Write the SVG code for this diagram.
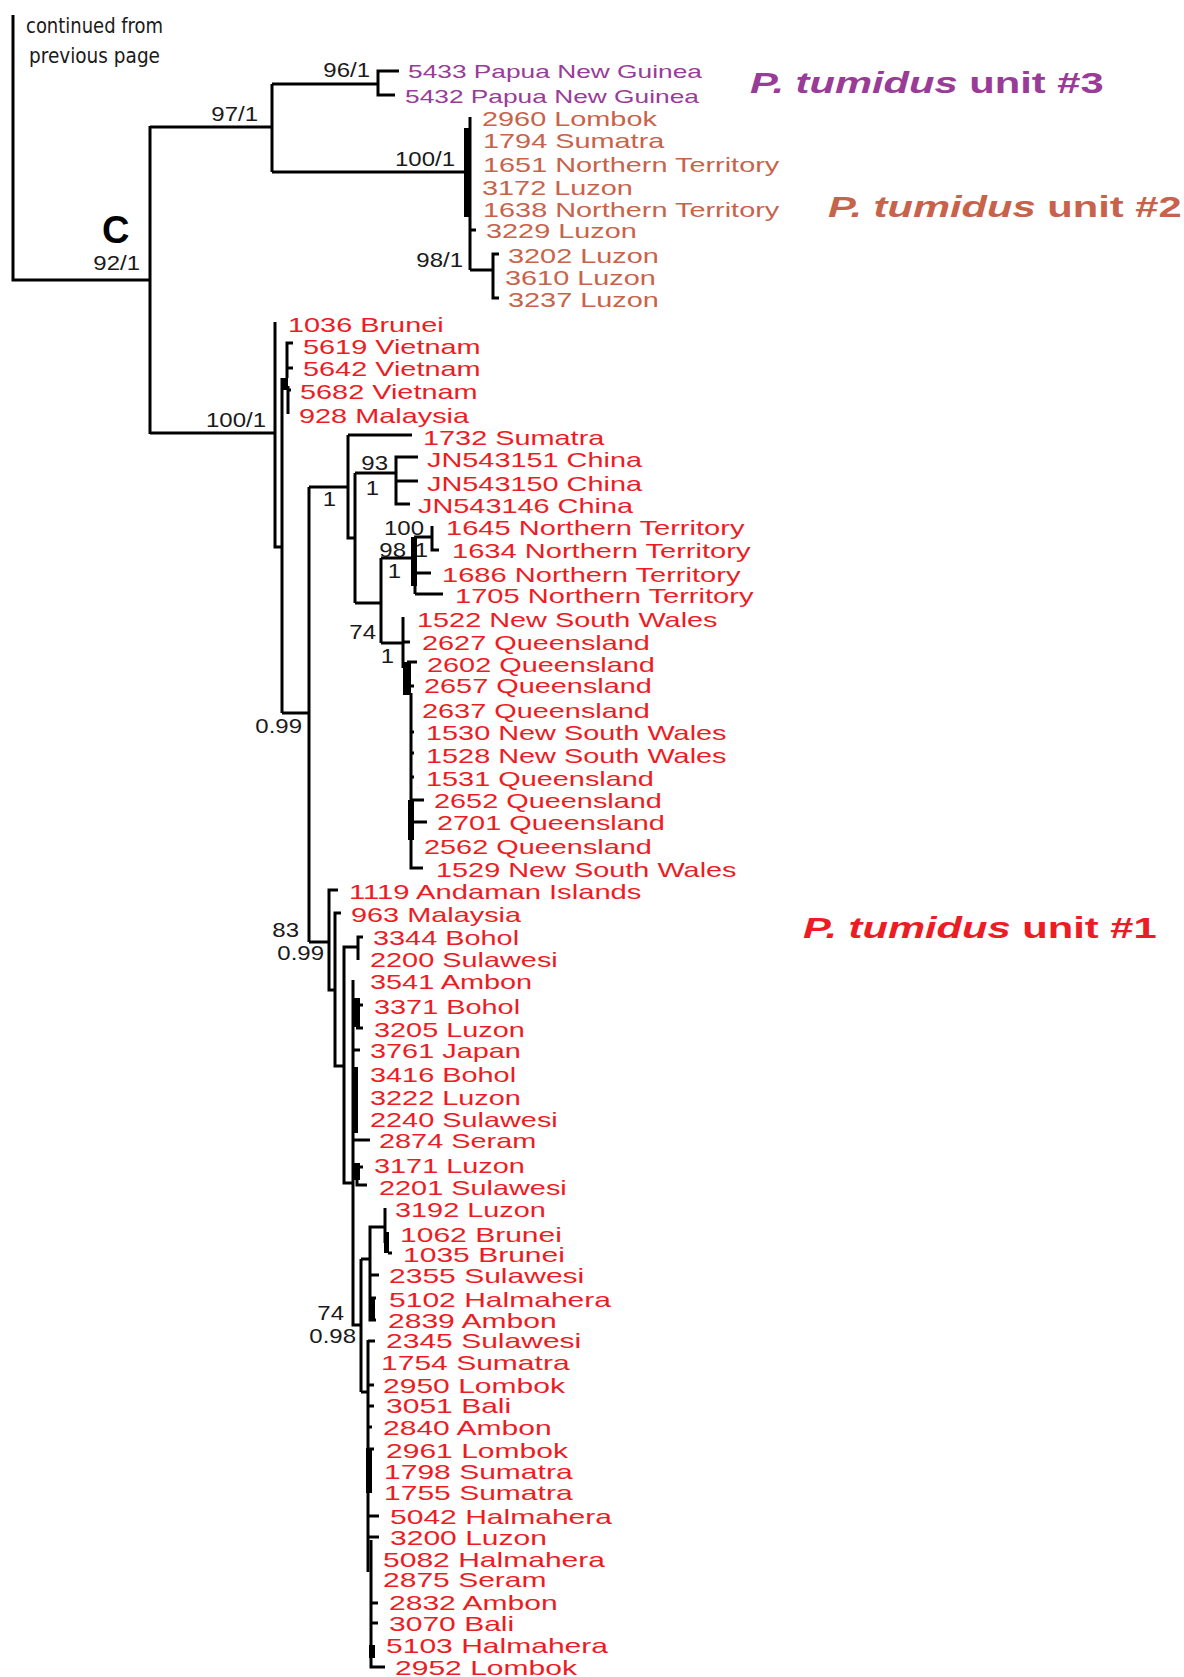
<svg xmlns="http://www.w3.org/2000/svg" width="1184" height="1677" viewBox="0 0 1184 1677">
<style>
.e{fill:none;stroke:#000;stroke-width:3;stroke-linejoin:miter}
.b{fill:#000}
.r{font-family:"Liberation Sans",Arial,sans-serif;font-size:21px;fill:#ed1c24}
.o{font-family:"Liberation Sans",Arial,sans-serif;font-size:21px;fill:#c8634b}
.p{font-family:"Liberation Sans",Arial,sans-serif;font-size:19px;fill:#993c98}
.sm{font-family:"Liberation Sans",Arial,sans-serif;font-size:20px;fill:#1a1a1a;text-anchor:end}
.u{font-family:"Liberation Sans",Arial,sans-serif;font-size:30px;font-weight:bold}
.n{font-family:"Liberation Sans Narrow","DejaVu Sans Condensed","Liberation Sans",sans-serif;font-size:22px;fill:#1a1a1a}
</style>
<rect width="1184" height="1677" fill="#fff"/>
<g id="connectors">
<path class="e" d="M13,15 V280 H150"/>
<path class="e" d="M150,126 V434"/>
<path class="e" d="M150,127 H272"/>
<path class="e" d="M150,433 H275"/>
<path class="e" d="M272,84 V172"/>
<path class="e" d="M272,84 H378"/>
<path class="e" d="M272,172 H470"/>
<path class="e" d="M399,71 H378 V95 H395"/>
<path class="e" d="M470,117 V270"/>
<rect class="b" x="464" y="128" width="6" height="89"/>
<path class="e" d="M470,230 H476"/>
<path class="e" d="M470,270 H493"/>
<path class="e" d="M499,254 H493 V298 H499"/>
<path class="e" d="M275,322 V547 H282"/>
<path class="e" d="M282,378 V713"/>
<path class="e" d="M293,343 H287 V378"/>
<path class="e" d="M287,368 H293"/>
<rect class="b" x="281" y="378" width="7" height="12"/>
<path class="e" d="M288,386 V414"/>
<path class="e" d="M288,390 H291"/>
<path class="e" d="M282,713 H309"/>
<path class="e" d="M309,487 V942"/>
<path class="e" d="M309,487 H348"/>
<path class="e" d="M348,435 V538 H355"/>
<path class="e" d="M348,435 H412"/>
<path class="e" d="M355,473 V603"/>
<path class="e" d="M355,473 H396"/>
<path class="e" d="M418,457 H396 V504 H410"/>
<path class="e" d="M396,481 H418"/>
<path class="e" d="M355,603 H381"/>
<path class="e" d="M381,558 V643"/>
<path class="e" d="M381,558 H414"/>
<rect class="b" x="411" y="537" width="6" height="49"/>
<path class="e" d="M415,537 V594"/>
<path class="e" d="M414,537 H432"/>
<path class="e" d="M432,526 V550 H439"/>
<path class="e" d="M415,573 H431"/>
<path class="e" d="M415,594 H443"/>
<path class="e" d="M381,643 H403"/>
<path class="e" d="M403,617 V668"/>
<path class="e" d="M403,642 H410"/>
<rect class="b" x="403" y="662" width="8" height="33"/>
<path class="e" d="M407,662 H417"/>
<path class="e" d="M407,686 H414"/>
<path class="e" d="M411,693 V868 H423"/>
<rect class="b" x="408" y="800" width="6" height="40"/>
<path class="e" d="M411,732 H414"/>
<path class="e" d="M411,753 H414"/>
<path class="e" d="M411,777 H414"/>
<path class="e" d="M411,800 H424"/>
<path class="e" d="M411,822 H427"/>
<path class="e" d="M309,942 H329"/>
<path class="e" d="M338,890 H329 V990 H335"/>
<path class="e" d="M341,913 H335 V1066 H344"/>
<path class="e" d="M358,947 H344 V1183 H353"/>
<path class="e" d="M363,937 H358 V960"/>
<path class="e" d="M353,980 V1325 H361"/>
<rect class="b" x="352" y="998" width="8" height="29"/>
<path class="e" d="M356,1005 H363"/>
<path class="e" d="M356,1028 H363"/>
<path class="e" d="M353,1050 H360"/>
<rect class="b" x="352" y="1067" width="6" height="66"/>
<path class="e" d="M353,1140 H370"/>
<rect class="b" x="352" y="1163" width="8" height="17"/>
<path class="e" d="M356,1167 H363"/>
<path class="e" d="M357,1178 V1185 H367"/>
<path class="e" d="M361,1259 V1392"/>
<path class="e" d="M361,1259 H370"/>
<path class="e" d="M385,1227 H370 V1320 H376"/>
<path class="e" d="M370,1275 H379"/>
<path class="e" d="M370,1298 H376"/>
<rect class="b" x="369" y="1297" width="6" height="23"/>
<path class="e" d="M385,1208 V1243"/>
<rect class="b" x="384" y="1232" width="5" height="21"/>
<path class="e" d="M388,1253 H392"/>
<path class="e" d="M361,1392 H368"/>
<path class="e" d="M368,1340 V1572"/>
<path class="e" d="M368,1341 H375"/>
<path class="e" d="M368,1385 H374"/>
<path class="e" d="M368,1406 H374"/>
<path class="e" d="M368,1427 H372"/>
<path class="e" d="M368,1449 H374"/>
<rect class="b" x="366" y="1448" width="6" height="45"/>
<path class="e" d="M368,1516 H379"/>
<path class="e" d="M368,1537 H379"/>
<path class="e" d="M371,1540 V1667 H385"/>
<path class="e" d="M371,1603 H378"/>
<path class="e" d="M371,1623 H378"/>
<rect class="b" x="369" y="1645" width="6" height="13"/>
</g>
<g id="notes">
<text class="n" x="26" y="33" textLength="137" lengthAdjust="spacingAndGlyphs">continued from</text>
<text class="n" x="29" y="63" textLength="131" lengthAdjust="spacingAndGlyphs">previous page</text>
<text x="102" y="243" font-family="Liberation Sans,sans-serif" font-size="38" font-weight="bold" fill="#000">C</text>
</g>
<g id="support">
<text class="sm" transform="matrix(1.2,0,0,1,370,77)">96/1</text>
<text class="sm" transform="matrix(1.2,0,0,1,258,121)">97/1</text>
<text class="sm" transform="matrix(1.2,0,0,1,455,166)">100/1</text>
<text class="sm" transform="matrix(1.2,0,0,1,140,270)">92/1</text>
<text class="sm" transform="matrix(1.2,0,0,1,463,267)">98/1</text>
<text class="sm" transform="matrix(1.2,0,0,1,266,427)">100/1</text>
<text class="sm" transform="matrix(1.2,0,0,1,336,506)">1</text>
<text class="sm" transform="matrix(1.2,0,0,1,388,470)">93</text>
<text class="sm" transform="matrix(1.2,0,0,1,379,495)">1</text>
<text class="sm" transform="matrix(1.2,0,0,1,424,535)">100</text>
<text class="sm" transform="matrix(1.2,0,0,1,406,557)">98</text>
<text class="sm" transform="matrix(1.2,0,0,1,428,557)">1</text>
<text class="sm" transform="matrix(1.2,0,0,1,401,578)">1</text>
<text class="sm" transform="matrix(1.2,0,0,1,376,639)">74</text>
<text class="sm" transform="matrix(1.2,0,0,1,394,663)">1</text>
<text class="sm" transform="matrix(1.2,0,0,1,302,733)">0.99</text>
<text class="sm" transform="matrix(1.2,0,0,1,299,937)">83</text>
<text class="sm" transform="matrix(1.2,0,0,1,324,960)">0.99</text>
<text class="sm" transform="matrix(1.2,0,0,1,344,1320)">74</text>
<text class="sm" transform="matrix(1.2,0,0,1,356,1343)">0.98</text>
</g>
<g id="unit3"><text class="u" transform="matrix(1.39,0,0,1,750,93)" fill="#993c98"><tspan font-style="italic">P. tumidus</tspan> unit #3</text></g>
<g id="unit2"><text class="u" transform="matrix(1.39,0,0,1,828,217)" fill="#c8634b"><tspan font-style="italic">P. tumidus</tspan> unit #2</text></g>
<g id="unit1"><text class="u" transform="matrix(1.39,0,0,1,803,938)" fill="#ed1c24"><tspan font-style="italic">P. tumidus</tspan> unit #1</text></g>
<g id="t5433"><text class="p" transform="matrix(1.385,0,0,1,408,78)">5433 Papua New Guinea</text></g>
<g id="t5432"><text class="p" transform="matrix(1.385,0,0,1,405,103)">5432 Papua New Guinea</text></g>
<g id="t2960"><text class="o" transform="matrix(1.375,0,0,1,482,126)">2960 Lombok</text></g>
<g id="t1794"><text class="o" transform="matrix(1.375,0,0,1,483,148)">1794 Sumatra</text></g>
<g id="t1651"><text class="o" transform="matrix(1.375,0,0,1,483,172)">1651 Northern Territory</text></g>
<g id="t3172"><text class="o" transform="matrix(1.375,0,0,1,482,195)">3172 Luzon</text></g>
<g id="t1638"><text class="o" transform="matrix(1.375,0,0,1,483,217)">1638 Northern Territory</text></g>
<g id="t3229"><text class="o" transform="matrix(1.375,0,0,1,486,238)">3229 Luzon</text></g>
<g id="t3202"><text class="o" transform="matrix(1.375,0,0,1,508,263)">3202 Luzon</text></g>
<g id="t3610"><text class="o" transform="matrix(1.375,0,0,1,505,285)">3610 Luzon</text></g>
<g id="t3237"><text class="o" transform="matrix(1.375,0,0,1,508,307)">3237 Luzon</text></g>
<g id="t1036"><text class="r" transform="matrix(1.375,0,0,1,288,332)">1036 Brunei</text></g>
<g id="t5619"><text class="r" transform="matrix(1.375,0,0,1,303,354)">5619 Vietnam</text></g>
<g id="t5642"><text class="r" transform="matrix(1.375,0,0,1,303,376)">5642 Vietnam</text></g>
<g id="t5682"><text class="r" transform="matrix(1.375,0,0,1,300,399)">5682 Vietnam</text></g>
<g id="t928"><text class="r" transform="matrix(1.375,0,0,1,299,423)">928 Malaysia</text></g>
<g id="t1732"><text class="r" transform="matrix(1.375,0,0,1,423,445)">1732 Sumatra</text></g>
<g id="tJN151"><text class="r" transform="matrix(1.375,0,0,1,427,467)">JN543151 China</text></g>
<g id="tJN150"><text class="r" transform="matrix(1.375,0,0,1,427,491)">JN543150 China</text></g>
<g id="tJN146"><text class="r" transform="matrix(1.375,0,0,1,418,513)">JN543146 China</text></g>
<g id="t1645"><text class="r" transform="matrix(1.385,0,0,1,446,535)">1645 Northern Territory</text></g>
<g id="t1634"><text class="r" transform="matrix(1.385,0,0,1,452,558)">1634 Northern Territory</text></g>
<g id="t1686"><text class="r" transform="matrix(1.385,0,0,1,442,582)">1686 Northern Territory</text></g>
<g id="t1705"><text class="r" transform="matrix(1.385,0,0,1,455,603)">1705 Northern Territory</text></g>
<g id="t1522"><text class="r" transform="matrix(1.375,0,0,1,417,627)">1522 New South Wales</text></g>
<g id="t2627"><text class="r" transform="matrix(1.375,0,0,1,422,650)">2627 Queensland</text></g>
<g id="t2602"><text class="r" transform="matrix(1.375,0,0,1,427,672)">2602 Queensland</text></g>
<g id="t2657"><text class="r" transform="matrix(1.375,0,0,1,424,693)">2657 Queensland</text></g>
<g id="t2637"><text class="r" transform="matrix(1.375,0,0,1,422,718)">2637 Queensland</text></g>
<g id="t1530"><text class="r" transform="matrix(1.375,0,0,1,426,740)">1530 New South Wales</text></g>
<g id="t1528"><text class="r" transform="matrix(1.375,0,0,1,426,763)">1528 New South Wales</text></g>
<g id="t1531"><text class="r" transform="matrix(1.375,0,0,1,426,786)">1531 Queensland</text></g>
<g id="t2652"><text class="r" transform="matrix(1.375,0,0,1,434,808)">2652 Queensland</text></g>
<g id="t2701"><text class="r" transform="matrix(1.375,0,0,1,437,830)">2701 Queensland</text></g>
<g id="t2562"><text class="r" transform="matrix(1.375,0,0,1,424,854)">2562 Queensland</text></g>
<g id="t1529"><text class="r" transform="matrix(1.375,0,0,1,436,877)">1529 New South Wales</text></g>
<g id="t1119"><text class="r" transform="matrix(1.39,0,0,1,349,899)">1119 Andaman Islands</text></g>
<g id="t963"><text class="r" transform="matrix(1.375,0,0,1,351,922)">963 Malaysia</text></g>
<g id="t3344"><text class="r" transform="matrix(1.375,0,0,1,373,945)">3344 Bohol</text></g>
<g id="t2200"><text class="r" transform="matrix(1.375,0,0,1,370,967)">2200 Sulawesi</text></g>
<g id="t3541"><text class="r" transform="matrix(1.375,0,0,1,370,989)">3541 Ambon</text></g>
<g id="t3371"><text class="r" transform="matrix(1.375,0,0,1,374,1014)">3371 Bohol</text></g>
<g id="t3205"><text class="r" transform="matrix(1.375,0,0,1,374,1037)">3205 Luzon</text></g>
<g id="t3761"><text class="r" transform="matrix(1.375,0,0,1,370,1058)">3761 Japan</text></g>
<g id="t3416"><text class="r" transform="matrix(1.375,0,0,1,370,1082)">3416 Bohol</text></g>
<g id="t3222"><text class="r" transform="matrix(1.375,0,0,1,370,1105)">3222 Luzon</text></g>
<g id="t2240"><text class="r" transform="matrix(1.375,0,0,1,370,1127)">2240 Sulawesi</text></g>
<g id="t2874"><text class="r" transform="matrix(1.375,0,0,1,379,1148)">2874 Seram</text></g>
<g id="t3171"><text class="r" transform="matrix(1.375,0,0,1,374,1173)">3171 Luzon</text></g>
<g id="t2201"><text class="r" transform="matrix(1.375,0,0,1,379,1195)">2201 Sulawesi</text></g>
<g id="t3192"><text class="r" transform="matrix(1.375,0,0,1,395,1217)">3192 Luzon</text></g>
<g id="t1062"><text class="r" transform="matrix(1.43,0,0,1,400,1242)">1062 Brunei</text></g>
<g id="t1035"><text class="r" transform="matrix(1.43,0,0,1,403,1262)">1035 Brunei</text></g>
<g id="t2355"><text class="r" transform="matrix(1.43,0,0,1,389,1283)">2355 Sulawesi</text></g>
<g id="t5102"><text class="r" transform="matrix(1.43,0,0,1,389,1307)">5102 Halmahera</text></g>
<g id="t2839"><text class="r" transform="matrix(1.43,0,0,1,388,1328)">2839 Ambon</text></g>
<g id="t2345"><text class="r" transform="matrix(1.43,0,0,1,386,1348)">2345 Sulawesi</text></g>
<g id="t1754"><text class="r" transform="matrix(1.43,0,0,1,381,1370)">1754 Sumatra</text></g>
<g id="t2950"><text class="r" transform="matrix(1.43,0,0,1,383,1393)">2950 Lombok</text></g>
<g id="t3051"><text class="r" transform="matrix(1.43,0,0,1,386,1413)">3051 Bali</text></g>
<g id="t2840"><text class="r" transform="matrix(1.43,0,0,1,383,1435)">2840 Ambon</text></g>
<g id="t2961"><text class="r" transform="matrix(1.43,0,0,1,386,1458)">2961 Lombok</text></g>
<g id="t1798"><text class="r" transform="matrix(1.43,0,0,1,384,1479)">1798 Sumatra</text></g>
<g id="t1755"><text class="r" transform="matrix(1.43,0,0,1,384,1500)">1755 Sumatra</text></g>
<g id="t5042"><text class="r" transform="matrix(1.43,0,0,1,390,1524)">5042 Halmahera</text></g>
<g id="t3200"><text class="r" transform="matrix(1.43,0,0,1,390,1545)">3200 Luzon</text></g>
<g id="t5082"><text class="r" transform="matrix(1.43,0,0,1,383,1567)">5082 Halmahera</text></g>
<g id="t2875"><text class="r" transform="matrix(1.43,0,0,1,383,1587)">2875 Seram</text></g>
<g id="t2832"><text class="r" transform="matrix(1.43,0,0,1,389,1610)">2832 Ambon</text></g>
<g id="t3070"><text class="r" transform="matrix(1.43,0,0,1,389,1631)">3070 Bali</text></g>
<g id="t5103"><text class="r" transform="matrix(1.43,0,0,1,386,1653)">5103 Halmahera</text></g>
<g id="t2952"><text class="r" transform="matrix(1.43,0,0,1,395,1675)">2952 Lombok</text></g>
</svg>
